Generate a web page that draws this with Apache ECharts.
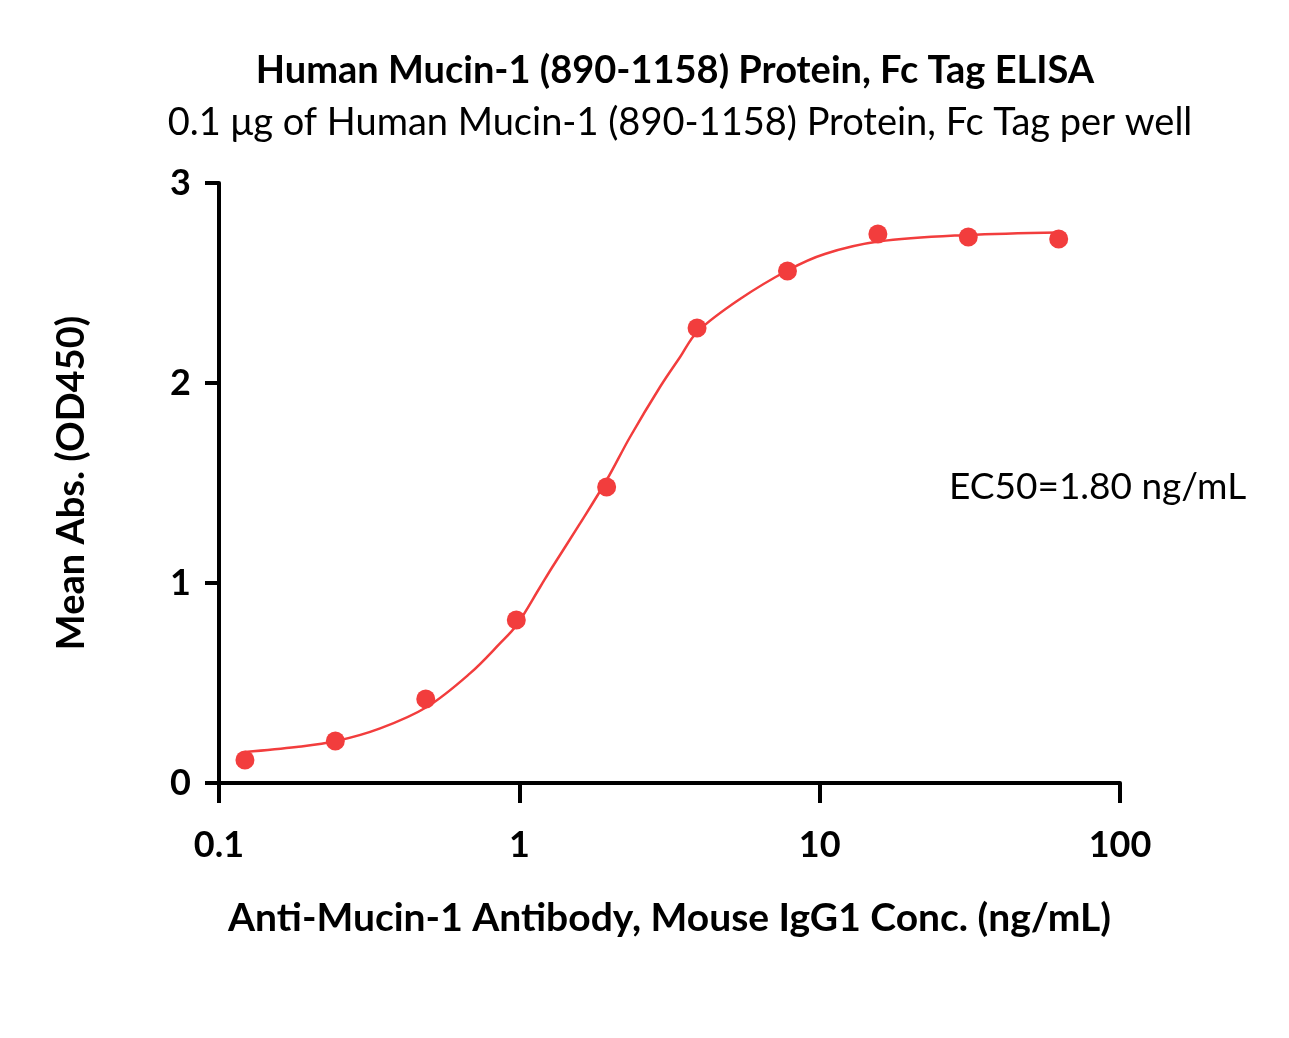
<!DOCTYPE html>
<html>
<head>
<meta charset="utf-8">
<script src="https://cdn.jsdelivr.net/npm/echarts@6/dist/echarts.min.js"></script>
<style>
  html, body { margin: 0; padding: 0; background: #fff; }
  #main { width: 1289px; height: 1038px; }
</style>
</head>
<body>
<div id="main"></div>
<script>
// measured points (ng/mL, OD450)
var conc = [0.122, 0.244, 0.488, 0.977, 1.953, 3.906, 7.813, 15.625, 31.25, 62.5];
var od = [0.115, 0.21, 0.42, 0.815, 1.48, 2.275, 2.56, 2.745, 2.73, 2.72];

// fitted curve
var fitX = [0.122, 0.181, 0.246, 0.344, 0.492, 0.685, 0.862, 0.98, 1.173, 1.282, 1.593, 1.954, 2.337, 2.94, 3.43, 3.92, 5.43, 7.87, 10.4, 15.69, 30.9, 62.5];
var fitY = [0.155, 0.18, 0.21, 0.273, 0.38, 0.548, 0.698, 0.79, 0.98, 1.075, 1.298, 1.515, 1.73, 1.98, 2.13, 2.257, 2.42, 2.565, 2.645, 2.707, 2.74, 2.753];

var yTicks = [0, 1, 2, 3];

var red = '#F23D3D';
var font = 'Lato';

var chart = echarts.init(document.getElementById('main'));

function pairs(xs, ys) {
  var out = [];
  for (var i = 0; i < xs.length; i++) out.push([xs[i], ys[i]]);
  return out;
}

chart.setOption({
  animation: false,
  backgroundColor: '#fff',
  title: [{
    text: 'Human Mucin-1 (890-1158) Protein, Fc Tag ELISA',
    left: 670, top: 47, textAlign: 'center',
    textStyle: { fontFamily: font, fontWeight: 'bold', fontSize: 38, color: '#000' }
  }, {
    text: '0.1 μg of Human Mucin-1 (890-1158) Protein, Fc Tag per well',
    left: 675, top: 99, textAlign: 'center',
    textStyle: { fontFamily: font, fontWeight: 'normal', fontSize: 38, color: '#000' }
  }],
  grid: { left: 219, right: 169, top: 183, bottom: 255 },
  xAxis: {
    type: 'log',
    logBase: 10,
    min: 0.1,
    max: 100,
    name: 'Anti-Mucin-1 Antibody, Mouse IgG1 Conc. (ng/mL)',
    nameLocation: 'middle',
    nameGap: 116,
    nameTextStyle: { fontFamily: font, fontWeight: 'bold', fontSize: 39, color: '#000' },
    axisLine: { lineStyle: { color: '#000', width: 4 } },
    axisTick: { length: 20, lineStyle: { color: '#000', width: 4 } },
    minorTick: { show: false },
    splitLine: { show: false },
    axisLabel: {
      margin: 44,
      fontFamily: font, fontWeight: 'bold', fontSize: 36, color: '#000',
      formatter: function (v) { return String(Math.round(v * 10) / 10); }
    }
  },
  yAxis: {
    type: 'value',
    min: 0,
    max: 3,
    interval: 1,
    name: 'Mean Abs. (OD450)',
    nameLocation: 'middle',
    nameGap: 128,
    nameTextStyle: { fontFamily: font, fontWeight: 'bold', fontSize: 38, color: '#000' },
    axisLine: { show: true, lineStyle: { color: '#000', width: 4 } },
    axisTick: { show: true, length: 14, lineStyle: { color: '#000', width: 4 } },
    splitLine: { show: false },
    axisLabel: {
      margin: 28,
      fontFamily: font, fontWeight: 'bold', fontSize: 36, color: '#000',
      formatter: function (v) { return yTicks.indexOf(v) >= 0 ? String(v) : ''; }
    }
  },
  series: [{
    name: 'fit',
    type: 'line',
    smooth: 0.35,
    showSymbol: false,
    data: pairs(fitX, fitY),
    lineStyle: { color: red, width: 2.5 },
    z: 2
  }, {
    name: 'data',
    type: 'scatter',
    symbol: 'circle',
    symbolSize: 19,
    data: pairs(conc, od),
    itemStyle: { color: red, opacity: 1 },
    z: 3
  }],
  graphic: [{
    type: 'text',
    left: 949, top: 469,
    style: {
      text: 'EC50=1.80 ng/mL',
      fontFamily: font, fontSize: 37, fill: '#000'
    }
  }]
});
</script>
</body>
</html>
